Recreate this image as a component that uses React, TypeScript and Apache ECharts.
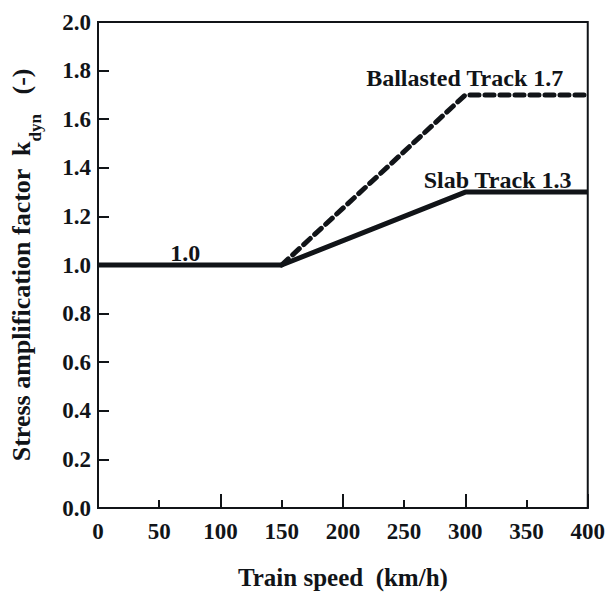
import React, { useEffect, useRef } from "react";
import * as echarts from "echarts";

const speeds = [0, 150, 300, 400];
const slabTrack = [1.0, 1.0, 1.3, 1.3];
const ballastSpeeds = [150, 300, 400];
const ballastedTrack = [1.0, 1.7, 1.7];
const annotations = [
  { text: "1.0", x: 59, y: 1.05 },
  { text: "Ballasted Track 1.7", x: 219, y: 1.77 },
  { text: "Slab Track 1.3", x: 266, y: 1.35 },
];

const FONT = "'Liberation Serif', 'DejaVu Serif', serif";
const INK = "#111418";

export default function App() {
  const ref = useRef<HTMLDivElement>(null);
  useEffect(() => {
    const chart = echarts.init(ref.current!, null, { renderer: "svg" });
    chart.setOption({
      animation: false,
      backgroundColor: "#fff",
      grid: {
        left: 97, right: 19, top: 22, bottom: 80,
        show: true, borderColor: INK, borderWidth: 2, backgroundColor: "transparent",
      },
      xAxis: [
        {
          type: "value", min: 0, max: 400, interval: 50,
          name: "Train speed  (km/h)", nameLocation: "middle", nameGap: 57,
          nameTextStyle: { fontFamily: FONT, fontWeight: "bold", fontSize: 25, color: INK },
          axisLine: { lineStyle: { color: INK, width: 2 } },
          axisTick: { inside: true, length: 8, lineStyle: { color: INK, width: 2 } },
          axisLabel: { fontFamily: FONT, fontWeight: "bold", fontSize: 23, color: INK, margin: 12 },
          splitLine: { show: false },
        },
        {
          type: "value", min: 0, max: 400, interval: 100, position: "bottom",
          axisLine: { show: false },
          axisTick: { inside: true, length: 14, lineStyle: { color: INK, width: 2 } },
          axisLabel: { show: false }, splitLine: { show: false },
        },
      ],
      yAxis: {
        type: "value", min: 0, max: 2, interval: 0.2,
        name: "Stress amplification factor  k{sub|dyn}   (-)",
        nameLocation: "middle", nameGap: 64, nameRotate: 90,
        nameTextStyle: {
          fontFamily: FONT, fontWeight: "bold", fontSize: 26, color: INK,
          rich: { sub: { fontFamily: FONT, fontWeight: "bold", fontSize: 17, color: INK, verticalAlign: "bottom", padding: [0, 0, -10, 0] } },
        },
        axisLine: { lineStyle: { color: INK, width: 2 } },
        axisTick: { inside: true, length: 11, lineStyle: { color: INK, width: 2 } },
        axisLabel: {
          fontFamily: FONT, fontWeight: "bold", fontSize: 23, color: INK, margin: 7,
          formatter: (v: number) => v.toFixed(1),
        },
        splitLine: { show: false },
      },
      series: [
        {
          type: "line", name: "Slab Track", xAxisIndex: 0,
          data: speeds.map((s, i) => [s, slabTrack[i]]),
          symbol: "none", lineStyle: { color: INK, width: 5 },
        },
        {
          type: "line", name: "Ballasted Track", xAxisIndex: 0,
          data: ballastSpeeds.map((s, i) => [s, ballastedTrack[i]]),
          symbol: "none", lineStyle: { color: INK, width: 5, type: [9, 6], cap: "round" },
        },
      ],
    });
    chart.setOption({
      graphic: annotations.map((a) => {
        const [px, py] = chart.convertToPixel({ xAxisIndex: 0, yAxisIndex: 0 }, [a.x, a.y]);
        return {
          type: "text", x: px, y: py,
          style: { text: a.text, fill: INK, font: `bold 24px ${FONT}`, textVerticalAlign: "middle" },
        };
      }),
    });
    return () => chart.dispose();
  }, []);
  return <div ref={ref} style={{ width: 608, height: 595, position: "absolute", left: 0, top: 0 }} />;
}
